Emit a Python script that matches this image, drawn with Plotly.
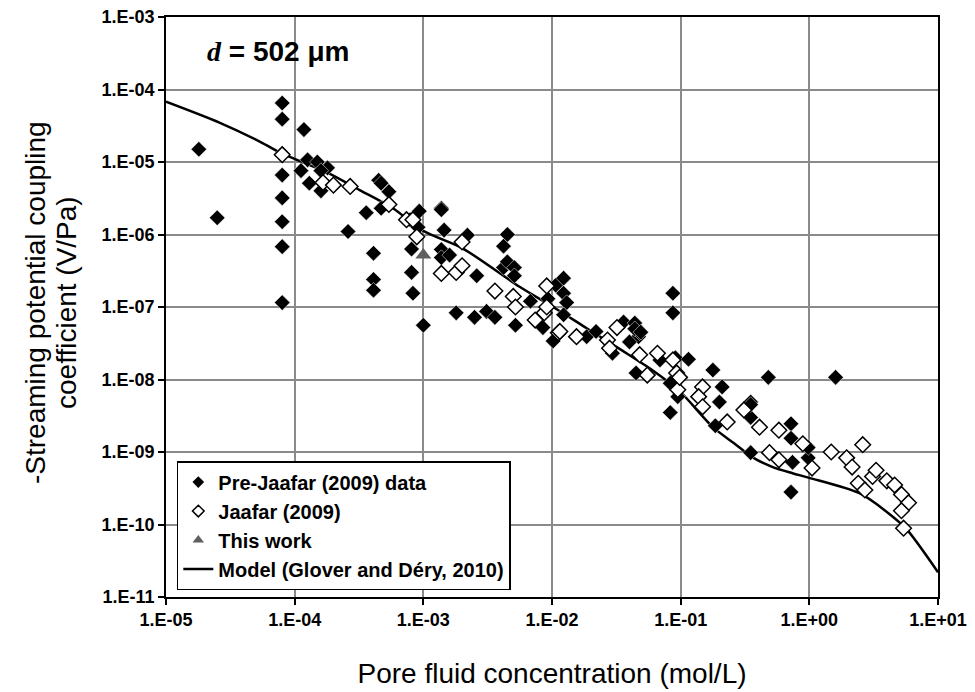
import plotly.graph_objects as go

# Pre-Jaafar (2009) data: concentration (mol/L), -coupling coefficient (V/Pa)
pre_c = [1.8e-5, 2.5e-5,
         8.0e-5, 8.0e-5, 8.0e-5, 8.0e-5, 8.0e-5, 8.0e-5, 8.0e-5, 8.0e-5,
         1.18e-4, 1.26e-4, 1.12e-4, 1.5e-4, 1.8e-4, 1.6e-4, 1.3e-4, 1.6e-4,
         4.5e-4, 4.7e-4, 5.4e-4, 3.6e-4, 4.7e-4, 2.6e-4, 4.1e-4, 4.1e-4, 4.1e-4,
         9.3e-4, 7.9e-4, 9.1e-4, 8.1e-4, 8.1e-4, 8.3e-4, 1.0e-3,
         1.38e-3, 1.38e-3, 1.45e-3, 2.2e-3, 1.38e-3, 1.38e-3, 1.6e-3, 2.6e-3,
         4.5e-3, 4.2e-3, 4.2e-3, 4.5e-3, 5.1e-3, 5.1e-3,
         1.8e-3, 2.5e-3, 3.1e-3, 3.6e-3, 5.2e-3, 6.8e-3, 8.5e-3,
         1.02e-2, 1.07e-2, 1.23e-2, 1.23e-2, 1.3e-2, 9.3e-3, 1.23e-2,
         1.86e-2, 2.2e-2, 2.95e-2, 3.6e-2, 4.4e-2, 4.7e-2, 4.5e-2,
         8.7e-2, 8.7e-2, 8.3e-2, 4.8e-2, 4.0e-2, 6.9e-2, 9.1e-2, 1.15e-1,
         9.5e-2, 8.3e-2, 4.4e-2, 4.9e-2,
         1.78e-1, 2.1e-1, 2.0e-1, 1.86e-1, 3.5e-1, 3.5e-1, 3.5e-1, 3.5e-1,
         4.8e-1, 7.2e-1, 7.2e-1, 7.4e-1, 7.2e-1, 1.6, 9.8e-1, 9.8e-1]
pre_v = [1.5e-5, 1.7e-6,
         6.5e-5, 3.9e-5, 1.3e-5, 6.6e-6, 3.2e-6, 1.5e-6, 6.8e-7, 1.15e-7,
         2.8e-5, 1.07e-5, 7.6e-6, 1.0e-5, 8.3e-6, 7.6e-6, 5.1e-6, 4.0e-6,
         5.6e-6, 5.1e-6, 3.9e-6, 2.0e-6, 2.3e-6, 1.1e-6, 5.5e-7, 2.4e-7, 1.7e-7,
         2.1e-6, 1.6e-6, 1.26e-6, 6.3e-7, 3.0e-7, 1.55e-7, 5.6e-8,
         2.3e-6, 2.2e-6, 1.15e-6, 9.8e-7, 6.2e-7, 4.8e-7, 5.2e-7, 2.7e-7,
         1.0e-6, 6.9e-7, 3.5e-7, 4.2e-7, 3.5e-7, 2.7e-7,
         8.3e-8, 7.2e-8, 8.7e-8, 7.2e-8, 5.6e-8, 1.2e-7, 5.2e-8,
         3.4e-8, 2.0e-7, 2.5e-7, 1.55e-7, 1.15e-7, 1.3e-7, 7.8e-8,
         3.9e-8, 4.6e-8, 2.3e-8, 6.2e-8, 6.0e-8, 3.9e-8, 1.23e-8,
         1.55e-7, 8.3e-8, 8.9e-9, 4.4e-8, 3.3e-8, 1.86e-8, 2.0e-8, 1.9e-8,
         5.8e-9, 3.5e-9, 5.0e-8, 4.5e-8,
         1.35e-8, 7.9e-9, 4.9e-9, 2.3e-9, 4.9e-9, 3.0e-9, 9.8e-10, 4.5e-9,
         1.07e-8, 2.45e-9, 1.55e-9, 7.2e-10, 2.8e-10, 1.07e-8, 8.3e-10, 1.15e-9]

# Jaafar (2009) data
jaafar_c = [8.0e-5, 1.66e-4, 2.0e-4, 2.7e-4, 5.4e-4, 7.4e-4, 8.3e-4, 8.9e-4,
            2.0e-3, 1.38e-3, 1.8e-3, 2.0e-3, 3.6e-3, 5.0e-3, 5.2e-3,
            9.1e-3, 8.7e-3, 7.4e-3, 1.12e-2, 1.55e-2, 2.7e-2, 3.2e-2, 2.8e-2,
            4.8e-2, 6.6e-2, 5.5e-2, 9.3e-2, 9.5e-2, 8.7e-2, 1.15e-2, 9.1e-3, 9.8e-2,
            1.48e-1, 1.38e-1, 1.48e-1, 2.3e-1, 3.1e-1, 4.1e-1, 5.8e-1, 4.9e-1, 5.8e-1,
            8.9e-1, 1.05, 1.48, 1.95, 2.15, 2.6, 2.4, 2.7, 3.1, 3.3, 4.0, 4.6,
            5.2, 5.9, 5.2, 5.4]
jaafar_v = [1.26e-5, 5.2e-6, 4.8e-6, 4.6e-6, 2.6e-6, 1.6e-6, 1.6e-6, 9.3e-7,
            7.9e-7, 2.9e-7, 3.0e-7, 3.7e-7, 1.66e-7, 1.4e-7, 1.0e-7,
            1.95e-7, 8.3e-8, 6.6e-8, 4.4e-8, 3.9e-8, 3.5e-8, 5.2e-8, 2.7e-8,
            2.2e-8, 2.3e-8, 1.15e-8, 1.23e-8, 7.2e-9, 1.86e-8, 4.6e-8, 1.0e-7, 1.07e-8,
            7.9e-9, 5.8e-9, 4.2e-9, 2.6e-9, 3.8e-9, 2.2e-9, 2.0e-9, 9.8e-10, 7.8e-10,
            1.3e-9, 6.0e-10, 1.0e-9, 8.3e-10, 6.2e-10, 1.26e-9, 3.7e-10, 3.0e-10, 4.6e-10,
            5.6e-10, 4.0e-10, 3.5e-10, 2.6e-10, 2.0e-10, 1.55e-10, 8.9e-11]

# This work
this_c = [1.0e-3]
this_v = [5.2e-7]

# Model (Glover and Dery, 2010)
model_c = [1.0e-5, 2.6e-5, 5.4e-5, 8.0e-5, 1.78e-4, 3.2e-4, 5.8e-4, 1.0e-3,
           2.0e-3, 5.6e-3, 1.02e-2, 1.86e-2, 3.4e-2, 6.0e-2, 9.8e-2, 1.78e-1,
           2.6e-1, 3.6e-1, 5.2e-1, 7.4e-1, 1.0, 2.45, 4.5, 5.8, 10.0]
model_v = [6.8e-5, 3.5e-5, 1.9e-5, 1.3e-5, 7.2e-6, 4.1e-6, 2.3e-6, 1.12e-6,
           6.5e-7, 1.9e-7, 1.0e-7, 5.1e-8, 2.6e-8, 1.35e-8, 6.9e-9, 2.2e-9,
           1.32e-9, 8.5e-10, 6.2e-10, 5.1e-10, 4.4e-10, 2.7e-10, 1.26e-10, 8.3e-11, 2.2e-11]

x_tickvals = [1e-5, 1e-4, 1e-3, 1e-2, 1e-1, 1e0, 1e1]
x_ticktext = ["1.E-05", "1.E-04", "1.E-03", "1.E-02", "1.E-01", "1.E+00", "1.E+01"]
y_tickvals = [1e-11, 1e-10, 1e-9, 1e-8, 1e-7, 1e-6, 1e-5, 1e-4, 1e-3]
y_ticktext = ["1.E-11", "1.E-10", "1.E-09", "1.E-08", "1.E-07", "1.E-06", "1.E-05", "1.E-04", "1.E-03"]

y_title_lines = ["-Streaming potential coupling", "coefficient (V/Pa)"]

FONT = "Liberation Sans, Arial, sans-serif"

fig = go.Figure()
fig.add_trace(go.Scatter(
    x=model_c, y=model_v, mode="lines", line=dict(color="black", width=2.5, shape="spline", smoothing=0.8),
    name="Model (Glover and Déry, 2010)", showlegend=False))
fig.add_trace(go.Scatter(
    x=pre_c, y=pre_v, mode="markers", name="Pre-Jaafar (2009) data", showlegend=False,
    marker=dict(symbol="diamond", size=12, color="black", line=dict(color="white", width=0.5))))
fig.add_trace(go.Scatter(
    x=jaafar_c, y=jaafar_v, mode="markers", name="Jaafar (2009)", showlegend=False,
    marker=dict(symbol="diamond", size=12, color="white", line=dict(color="black", width=1.5))))
fig.add_trace(go.Scatter(
    x=this_c, y=this_v, mode="markers", name="This work", showlegend=False,
    marker=dict(symbol="triangle-up", size=14, color="#5f5f5f")))

# legend entries (smaller symbols, as in the original legend)
fig.add_trace(go.Scatter(x=[None], y=[None], mode="markers", name="Pre-Jaafar (2009) data",
                         marker=dict(symbol="diamond", size=9, color="black")))
fig.add_trace(go.Scatter(x=[None], y=[None], mode="markers", name="Jaafar (2009)",
                         marker=dict(symbol="diamond-open", size=9, color="black", line=dict(width=1.5))))
fig.add_trace(go.Scatter(x=[None], y=[None], mode="markers", name="This work",
                         marker=dict(symbol="triangle-up", size=10, color="#5f5f5f")))
fig.add_trace(go.Scatter(x=[None], y=[None], mode="lines", name="Model (Glover and Déry, 2010)",
                         line=dict(color="black", width=2.5)))

axis_common = dict(
    type="log", showline=True, linecolor="black", linewidth=1.5, mirror=True,
    showgrid=True, gridcolor="#8a8a8a", gridwidth=1.5, zeroline=False,
    ticks="outside", ticklen=6, tickwidth=1.5, tickcolor="black", automargin=False,
    tickfont=dict(family=FONT, size=18, color="black", weight="bold"),
)

fig.update_layout(
    width=975, height=692,
    margin=dict(l=166, r=37, t=17, b=95),
    paper_bgcolor="white", plot_bgcolor="white",
    font=dict(family=FONT, color="black"),
    xaxis=dict(axis_common, range=[-5, 1], tickvals=x_tickvals, ticktext=x_ticktext,
               title=dict(text="Pore fluid concentration (mol/L)", font=dict(family=FONT, size=28), standoff=34)),
    yaxis=dict(axis_common, range=[-11, -3], tickvals=y_tickvals, ticktext=y_ticktext),
    legend=dict(x=0.014, y=0.012, xanchor="left", yanchor="bottom",
                bgcolor="white", bordercolor="black", borderwidth=1.5,
                font=dict(family=FONT, size=20, color="black", weight="bold"),
                tracegroupgap=0, itemwidth=30),
    showlegend=True,
)

# y-axis title as two tightly spaced rotated lines
for txt, px in zip(y_title_lines, [35, 66]):
    fig.add_annotation(
        xref="paper", yref="paper", x=0, y=(597 - 303) / 580, xshift=px - 166,
        xanchor="center", yanchor="middle", textangle=-90, text=txt, showarrow=False,
        font=dict(family=FONT, size=28, color="black"))

fig.add_annotation(
    xref="paper", yref="paper", x=0.05, y=0.94, xanchor="left", yanchor="middle",
    text="<span style='font-family:Liberation Serif, Times New Roman, serif'><b><i>d</i></b></span><b> = 502 μm</b>",
    showarrow=False, font=dict(family=FONT, size=28, color="black"))

fig.write_html("out.html")
